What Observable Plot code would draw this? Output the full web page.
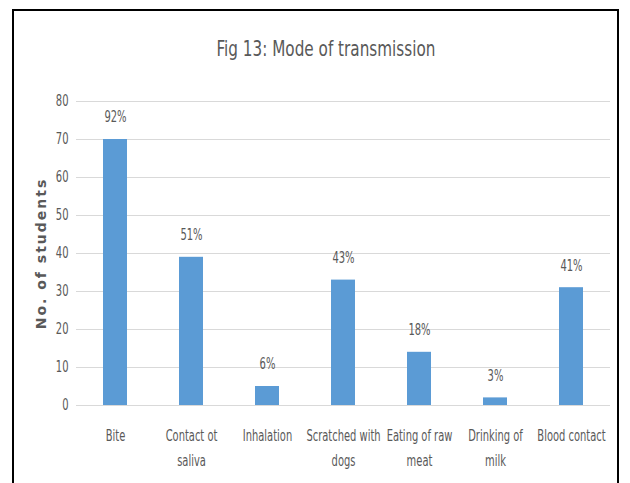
<!DOCTYPE html>
<html>
<head>
<meta charset="utf-8">
<script src="https://cdn.jsdelivr.net/npm/d3@7"></script>
<script src="https://cdn.jsdelivr.net/npm/@observablehq/plot@0.6"></script>
<style>
  html, body { margin: 0; padding: 0; background: #fff; overflow: hidden; }
  #wrap { position: relative; width: 630px; height: 483px; }
  #frame { position: absolute; left: 12px; top: 9px; width: 607px; height: 490px;
           border: 2px solid #000; box-sizing: border-box; }
  #title { position: absolute; left: 11px; width: 630px; top: 36px; text-align: center;
           font-family: "DejaVu Sans Condensed", "Liberation Sans Narrow", sans-serif; font-stretch: condensed;
           font-size: 22px; color: #595959; transform: scaleX(0.77); transform-origin: 315px 0; }
  #chart { position: absolute; left: 0; top: 0; }
  #chart svg { font-family: "DejaVu Sans Condensed", "Liberation Sans Narrow", sans-serif; font-stretch: condensed; }
  g[aria-label="y-axis label"] text { font-family: "DejaVu Sans", sans-serif; font-stretch: normal; font-weight: bold; font-size: 14px; fill: #595959; letter-spacing: 2px; }
</style>
</head>
<body>
<div id="wrap">
  <div id="frame"></div>
  <div id="title">Fig 13: Mode of transmission</div>
  <div id="chart"></div>
</div>
<script>
const categories = ["Bite", "Contact ot saliva", "Inhalation", "Scratched with dogs", "Eating of raw meat", "Drinking of milk", "Blood contact"];
const tickLabels = ["Bite", "Contact ot\nsaliva", "Inhalation", "Scratched with\ndogs", "Eating of raw\nmeat", "Drinking of\nmilk", "Blood contact"];
const students = [70, 39, 5, 33, 14, 2, 31];
const percents = ["92%", "51%", "6%", "43%", "18%", "3%", "41%"];
const yTicks = [0, 10, 20, 30, 40, 50, 60, 70, 80];

const data = categories.map((c, i) => ({category: c, value: students[i], pct: percents[i]}));
const labelOf = new Map(categories.map((c, i) => [c, tickLabels[i]]));

const chart = Plot.plot({
  width: 630,
  height: 483,
  marginLeft: 76,
  marginRight: 20,
  marginTop: 101,
  marginBottom: 78,
  style: { background: "transparent", fontSize: "15px", color: "#595959" },
  x: { domain: categories, paddingInner: 0.68, paddingOuter: 0.34, label: null },
  y: { domain: [0, 80], ticks: yTicks, label: null },
  marks: [
    Plot.gridY(yTicks, { stroke: "#d9d9d9", strokeOpacity: 1 }),
    Plot.barY(data, { x: "category", y: "value", fill: "#5b9bd5" }),
    Plot.text(data, { x: "category", y: "value", text: "pct", dy: -22, fill: "#595959", fontSize: 15 }),
    Plot.axisY({ ticks: yTicks, tickSize: 0, tickPadding: 8, fontSize: 15,
                 label: "No. of students", labelAnchor: "center", labelArrow: "none", labelOffset: 40 }),
    Plot.axisX({ tickSize: 0, tickPadding: 18, fontSize: 16, lineHeight: 1.55,
                 tickFormat: d => labelOf.get(d), label: null })
  ]
});
// condense the labels horizontally around their anchors, like the narrow face of the original
const squeeze = [
  ['g[aria-label="x-axis tick label"] text', 0.69],
  ['g[aria-label="y-axis tick label"] text', 0.74],
  ['g[aria-label="text"] text', 0.74]
];
for (const [sel, k] of squeeze) {
  chart.querySelectorAll(sel).forEach(t => {
    const tr = t.getAttribute("transform") || "";
    t.setAttribute("transform", tr + ` scale(${k},1)`);
  });
}
document.getElementById("chart").appendChild(chart);
</script>
</body>
</html>
